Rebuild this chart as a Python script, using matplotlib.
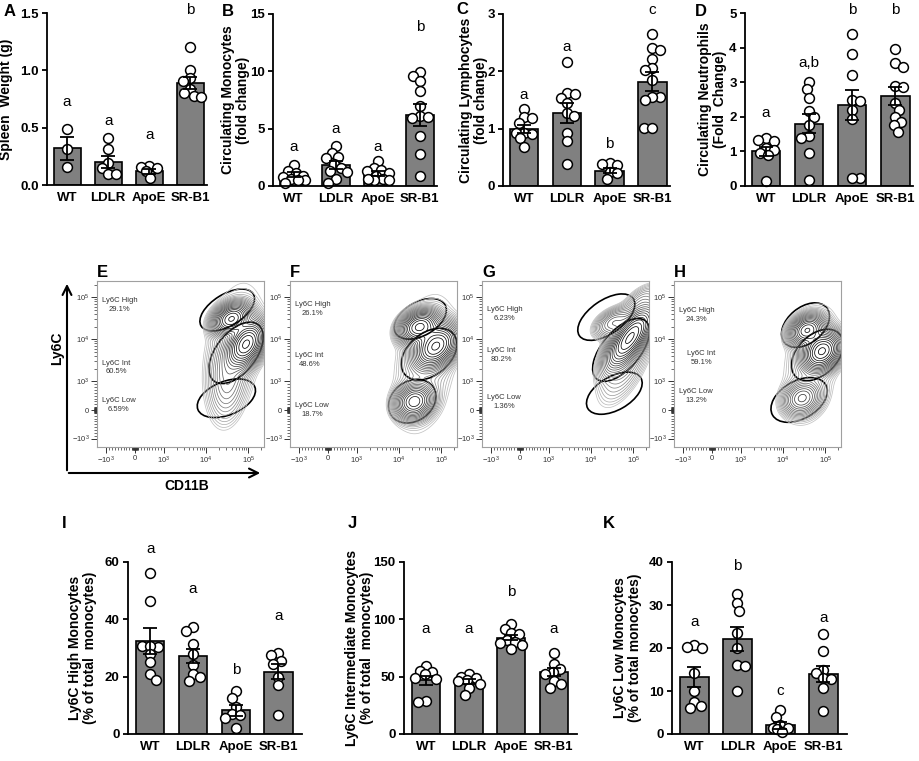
import numpy as np
import matplotlib
matplotlib.use("Agg")
import matplotlib.pyplot as plt
from matplotlib.patches import Ellipse, FancyArrowPatch

plt.rcParams["font.family"] = ["Liberation Sans", "DejaVu Sans"]
plt.rcParams["mathtext.fontset"] = "custom"
plt.rcParams["mathtext.rm"] = "Liberation Sans"
plt.rcParams["mathtext.it"] = "Liberation Sans:italic"
plt.rcParams["mathtext.bf"] = "Liberation Sans:bold"

W, H = 920, 761
GROUPS = ["WT", "LDLR", "ApoE", "SR-B1"]

# ---- A: spleen weight (g)
spleen_pts = [[0.49, 0.31, 0.16],
              [0.41, 0.31, 0.19, 0.15, 0.10, 0.10],
              [0.17, 0.16, 0.15, 0.12, 0.06],
              [1.20, 1.00, 0.93, 0.91, 0.84, 0.80, 0.78, 0.77]]
spleen_mean = [0.32, 0.20, 0.12, 0.89]
spleen_sem = [0.10, 0.055, 0.02, 0.055]
spleen_letters = ["a", "a", "a", "b"]
spleen_letter_y = [0.72, 0.56, 0.44, 1.53]

# ---- B: circulating monocytes (fold change)
mono_pts = [[1.8, 1.3, 1.1, 0.9, 0.8, 0.6, 0.5, 0.5, 0.3],
            [3.5, 2.9, 2.5, 2.4, 1.9, 1.6, 1.3, 1.2, 0.6, 0.3],
            [2.2, 1.6, 1.4, 1.3, 1.1, 0.9, 0.6, 0.5, 0.5, 0.6],
            [9.9, 9.6, 9.2, 8.3, 7.0, 6.1, 6.0, 5.9, 4.4, 2.8, 0.9]]
mono_mean = [1.0, 1.8, 1.1, 6.2]
mono_sem = [0.2, 0.35, 0.2, 0.95]
mono_letters = ["a", "a", "a", "b"]
mono_letter_y = [3.4, 5.0, 3.4, 13.9]

# ---- C: circulating lymphocytes (fold change)
lymph_pts = [[1.35, 1.21, 1.18, 1.10, 0.93, 0.92, 0.90, 0.83, 0.68],
             [2.17, 1.62, 1.60, 1.53, 1.45, 1.28, 1.22, 0.93, 0.78, 0.38],
             [0.40, 0.38, 0.36, 0.25, 0.22, 0.12],
             [2.65, 2.40, 2.38, 2.22, 2.05, 2.02, 1.85, 1.55, 1.55, 1.50, 1.02, 1.02]]
lymph_mean = [1.0, 1.27, 0.27, 1.82]
lymph_sem = [0.07, 0.17, 0.04, 0.16]
lymph_letters = ["a", "a", "b", "c"]
lymph_letter_y = [1.59, 2.43, 0.74, 3.07]

# ---- D: circulating neutrophils (fold change)
neut_pts = [[1.38, 1.33, 1.30, 1.10, 1.03, 0.95, 0.90, 0.15],
            [3.02, 2.80, 2.55, 2.18, 2.00, 1.75, 1.45, 1.40, 0.95, 0.18],
            [4.38, 3.82, 3.20, 2.50, 2.45, 2.20, 1.95, 0.22, 0.22],
            [3.95, 3.55, 3.45, 2.90, 2.85, 2.40, 2.20, 2.00, 1.85, 1.75, 1.55]]
neut_mean = [1.0, 1.8, 2.35, 2.6]
neut_sem = [0.14, 0.28, 0.43, 0.26]
neut_letters = ["a", "a,b", "b", "b"]
neut_letter_y = [2.1, 3.55, 5.1, 5.1]

# ---- I: Ly6C high (% of total monocytes)
high_pts = [[56, 46.5, 30.8, 30.5, 30.8, 28, 25, 21, 19],
            [37.3, 35.8, 31.5, 28, 24, 21, 20, 18.6],
            [15, 12.5, 9.5, 7, 6.5, 5.5, 2],
            [28.2, 27.5, 25.5, 24.4, 20, 17, 6.5]]
high_mean = [32.4, 27.2, 8.3, 21.8]
high_sem = [4.5, 2.3, 1.9, 2.7]
high_letters = ["a", "a", "b", "a"]
high_letter_y = [64.5, 50.5, 22.5, 41]

# ---- J: Ly6C intermediate
int_pts = [[59, 55, 54, 52, 49, 48, 29, 28],
           [52, 50, 49, 47, 46, 44, 40, 34],
           [96, 92, 88, 87, 82, 80, 79, 78, 74],
           [71, 61, 57, 54, 52, 46, 44, 40]]
int_mean = [47, 46, 84, 54]
int_sem = [4, 2, 2.3, 3.5]
int_letters = ["a", "a", "b", "a"]
int_letter_y = [92, 92, 124, 92]

# ---- K: Ly6C low
low_pts = [[20.7, 20.2, 20.0, 14.2, 10.0, 7.5, 6.5, 6.0],
           [32.5, 30.4, 28.6, 23.5, 20.0, 16.0, 15.8, 10.0],
           [5.5, 4.0, 2.0, 1.5, 1.2, 1.3, 0.5],
           [23.3, 19.3, 15.0, 14.2, 13.0, 12.8, 10.8, 5.4]]
low_mean = [13.3, 22, 2.0, 14]
low_sem = [2.3, 2.8, 0.8, 1.8]
low_letters = ["a", "b", "c", "a"]
low_letter_y = [26, 39, 10, 27]

# ---- E-H: flow cytometry gates (Ly6C vs CD11B)
gate_names = ["Ly6C High", "Ly6C Int", "Ly6C Low"]
gate_pct = [["29.1%", "60.5%", "6.59%"],
            ["26.1%", "48.6%", "18.7%"],
            ["6.23%", "80.2%", "1.36%"],
            ["24.3%", "59.1%", "13.2%"]]
# gate ellipses in display units: (cx, cy, width, height, angle)
gates = [[(2.18, 2.38, 1.45, 0.75, 32), (2.39, 1.36, 1.70, 0.95, 52), (2.16, 0.28, 1.45, 0.80, 22)],
         [(2.18, 2.17, 1.35, 0.80, 30), (2.39, 1.33, 1.50, 1.00, 40), (1.99, 0.21, 1.20, 0.95, 35)],
         [(2.04, 2.21, 1.55, 0.80, 35), (2.39, 1.43, 1.80, 0.90, 50), (2.23, 0.40, 1.45, 0.80, 30)],
         [(2.21, 2.02, 1.30, 0.85, 40), (2.49, 1.31, 1.45, 0.95, 45), (2.06, 0.24, 1.45, 0.90, 30)]]
# cell populations: (cx, cy, sd major, sd minor, angle, weight)
pops = [[(2.28, 2.17, 0.22, 0.16, 30, 0.27), (2.63, 1.57, 0.28, 0.18, 60, 0.50),
         (2.20, 0.85, 0.55, 0.22, 85, 0.10), (2.35, 1.50, 0.95, 0.40, 80, 0.10)],
        [(2.16, 1.98, 0.23, 0.17, 25, 0.25), (2.55, 1.52, 0.28, 0.20, 45, 0.44),
         (2.04, 0.20, 0.22, 0.19, 30, 0.18), (2.30, 1.10, 0.95, 0.40, 80, 0.10)],
        [(2.60, 1.72, 0.40, 0.16, 55, 0.70), (2.22, 2.08, 0.25, 0.15, 30, 0.06),
         (2.50, 1.20, 0.60, 0.25, 65, 0.10), (2.85, 2.60, 0.30, 0.15, 40, 0.02)],
        [(2.25, 1.90, 0.21, 0.16, 30, 0.23), (2.60, 1.40, 0.24, 0.19, 45, 0.52),
         (2.13, 0.28, 0.23, 0.19, 30, 0.12), (2.35, 1.10, 0.85, 0.38, 80, 0.10)]]
gate_label_y = [[0.855, 0.48, 0.253], [0.831, 0.524, 0.223],
                [0.80, 0.554, 0.27], [0.795, 0.536, 0.307]]
gate_label_x = [[0.03, 0.03, 0.03], [0.03, 0.03, 0.03],
                [0.03, 0.03, 0.03], [0.03, 0.08, 0.03]]
flow_letters = ["E", "F", "G", "H"]

BAR_COLOR = "#808080"
LIN = 0.68  # decades used by each half of the linear zone


def biex(v):
    v = np.asarray(v, dtype=float)
    a = np.abs(v)
    return np.where(a <= 1000, v / 1000 * LIN,
                    np.sign(v) * (LIN + np.log10(np.maximum(a, 1) / 1000)))


def px_rect(l, t, r, b):
    return [l / W, 1 - b / H, (r - l) / W, (b - t) / H]


def swarm_offsets(vals, ppu_x, ppu_y, d=8.0, max_off=11.0):
    placed = []
    offs = [0.0] * len(vals)
    flip = 1
    for i in np.argsort(vals)[::-1]:
        y = vals[i] * ppu_y
        cands = [0.0]
        for px, py in placed:
            dy = abs(py - y)
            if dy < d:
                dx = np.sqrt(d * d - dy * dy)
                cands += [px + dx, px - dx]
        ok = [c for c in cands if abs(c) <= max_off and
              all((c - px) ** 2 + (y - py) ** 2 >= d * d - 1e-6 for px, py in placed)]
        if ok:
            best = min(ok, key=lambda c: (round(abs(c), 3), -flip * c))
        else:
            grid = np.linspace(-max_off, max_off, 23)
            best = max(grid, key=lambda c: min((c - px) ** 2 + (y - py) ** 2
                                               for px, py in placed))
        flip = -flip
        placed.append((best, y))
        offs[i] = best / ppu_x
    return offs


def bar_panel(fig, rect, pts, means, sems, letters, letter_y, ylim, yticks,
              yfmt, ylabel, ylabel_right, xlim):
    ax = fig.add_axes(px_rect(*rect))
    x = np.arange(len(GROUPS))
    ax.bar(x, means, width=0.66, color=BAR_COLOR, edgecolor="black",
           linewidth=1.2, zorder=1)
    wpx = rect[2] - rect[0]
    hpx = rect[3] - rect[1]
    ppu_x = wpx / (xlim[1] - xlim[0])
    ppu_y = hpx / (ylim[1] - ylim[0])
    for i, vals in enumerate(pts):
        offs = swarm_offsets(vals, ppu_x, ppu_y)
        ax.scatter(i + np.array(offs), vals, s=50, facecolor="white",
                   edgecolor="black", linewidth=1.1, zorder=2, clip_on=False)
    ax.errorbar(x, means, yerr=sems, fmt="none", ecolor="black",
                elinewidth=1.3, capsize=5, capthick=1.3, zorder=3)
    for i, (s, yy) in enumerate(zip(letters, letter_y)):
        ax.text(i, yy, s, ha="center", va="center", fontsize=11, clip_on=False)
    ax.set_xlim(*xlim)
    ax.set_ylim(*ylim)
    ax.set_yticks(yticks)
    ax.set_yticklabels([yfmt.format(t) for t in yticks], fontweight="bold",
                       fontsize=9.5)
    ax.set_xticks(x)
    ax.set_xticklabels(GROUPS, fontweight="bold", fontsize=9.5)
    ax.tick_params(axis="x", length=0, pad=5)
    ax.tick_params(axis="y", length=3.5, width=1.3, pad=2.5)
    for side in ("top", "right"):
        ax.spines[side].set_visible(False)
    for side in ("left", "bottom"):
        ax.spines[side].set_linewidth(1.3)
    ax.set_ylabel(ylabel, fontweight="bold", fontsize=10, linespacing=1.05)
    ax.yaxis.set_label_coords((ylabel_right - rect[0]) / wpx, 0.5)
    return ax


def flow_panel(fig, rect, k):
    ax = fig.add_axes(px_rect(*rect))
    xlim = (-0.9, 3.05)
    ylim = (-0.88, 3.07)
    gx = np.linspace(*xlim, 320)
    gy = np.linspace(*ylim, 320)
    X, Y = np.meshgrid(gx, gy)
    Z = np.zeros_like(X)
    for cx, cy, s1, s2, ang, w in pops[k]:
        t = np.deg2rad(ang)
        u = (X - cx) * np.cos(t) + (Y - cy) * np.sin(t)
        v = -(X - cx) * np.sin(t) + (Y - cy) * np.cos(t)
        Z += w / (s1 * s2) * np.exp(-0.5 * ((u / s1) ** 2 + (v / s2) ** 2))
    levels = np.geomspace(0.007, 0.93, 22) * Z.max()
    cols = plt.cm.Greys(np.linspace(0.35, 1.0, len(levels)))
    ax.contour(X, Y, Z, levels=levels, colors=cols, linewidths=0.55)
    for cx, cy, w, h, ang in gates[k]:
        ax.add_patch(Ellipse((cx, cy), w, h, angle=ang, fill=False,
                             edgecolor="black", linewidth=1.2))
    for name, pct, xx, yy in zip(gate_names, gate_pct[k], gate_label_x[k],
                                 gate_label_y[k]):
        ax.text(xx, yy, f"{name}\n{pct}", transform=ax.transAxes,
                ha="left", va="center", multialignment="center",
                fontsize=5.5, color="#333333", linespacing=1.3)
    ax.set_xlim(*xlim)
    ax.set_ylim(*ylim)

    major_v = [-1000, 0, 1000, 10000, 100000]
    major_lab = ["$-10^{3}$", "0", "$10^{3}$", "$10^{4}$", "$10^{5}$"]
    minor_v = ([s * m for s in (-1, 1) for m in range(10, 100, 10)]
               + [s * m for s in (-1, 1) for m in range(100, 1000, 100)]
               + [m * 10 ** e for e in (3, 4) for m in range(2, 10)] + [200000])
    for axis in (ax.xaxis, ax.yaxis):
        axis.set_ticks(biex(major_v))
        axis.set_ticklabels(major_lab)
        axis.set_ticks(biex(minor_v), minor=True)
    ax.tick_params(which="major", length=4, width=0.7, color="#333333",
                   labelsize=5.5, labelcolor="#333333", pad=1.5)
    ax.tick_params(which="minor", length=2, width=0.5, color="#333333")
    for sp in ax.spines.values():
        sp.set_color("#a0a0a0")
        sp.set_linewidth(0.8)
    return ax


fig = plt.figure(figsize=(W / 100, H / 100), dpi=100)

bar_panel(fig, (47, 13, 207, 185), spleen_pts, spleen_mean, spleen_sem,
          spleen_letters, spleen_letter_y, (0, 1.5), [0, 0.5, 1.0, 1.5], "{:.1f}",
          "Spleen  Weight (g)", 13, (-0.49, 3.41))
bar_panel(fig, (273, 14, 437, 186), mono_pts, mono_mean, mono_sem,
          mono_letters, mono_letter_y, (0, 15), [0, 5, 10, 15], "{:.0f}",
          "Circulating Monocytes\n(fold change)", 250, (-0.49, 3.41))
bar_panel(fig, (503, 14, 670, 186), lymph_pts, lymph_mean, lymph_sem,
          lymph_letters, lymph_letter_y, (0, 3), [0, 1, 2, 3], "{:.0f}",
          "Circulating Lymphocytes\n(fold change)", 488, (-0.49, 3.41))
bar_panel(fig, (745, 13, 913, 186), neut_pts, neut_mean, neut_sem,
          neut_letters, neut_letter_y, (0, 5), [0, 1, 2, 3, 4, 5], "{:.0f}",
          "Circulating Neutrophils\n(Fold  Change)", 727, (-0.49, 3.41))

bar_panel(fig, (128, 562, 302, 734), high_pts, high_mean, high_sem,
          high_letters, high_letter_y, (0, 60), [0, 20, 40, 60], "{:.0f}",
          "Ly6C High Monocytes\n(% of total  monocytes)", 97, (-0.52, 3.55))
bar_panel(fig, (404, 562, 577, 734), int_pts, int_mean, int_sem,
          int_letters, int_letter_y, (0, 150), [0, 50, 100, 150], "{:.0f}",
          "Ly6C Intermediate Monocytes\n(% of total  monocytes)", 374, (-0.52, 3.55))
bar_panel(fig, (672, 562, 847, 734), low_pts, low_mean, low_sem,
          low_letters, low_letter_y, (0, 40), [0, 10, 20, 30, 40], "{:.0f}",
          "Ly6C Low Monocytes\n(% of total monocytes)", 642, (-0.52, 3.55))

flow_lefts = [97, 290, 482, 674]
for k, left in enumerate(flow_lefts):
    flow_panel(fig, (left, 281, left + 167, 447), k)
    fig.text(left / W, 1 - 272 / H, flow_letters[k], fontsize=12,
             fontweight="bold", ha="left", va="center")

# panel letters
for s, x, y in [("A", 4, 12), ("B", 222, 12), ("C", 456, 10), ("D", 695, 12),
                ("I", 62, 523), ("J", 348, 523), ("K", 603, 523)]:
    fig.text(x / W, 1 - y / H, s, fontsize=12, fontweight="bold",
             ha="left", va="center")

# axis arrows for flow plots
arrow = dict(arrowstyle="->", lw=1.5, color="black", mutation_scale=16)
fig.add_artist(FancyArrowPatch((67 / W, 1 - 473 / H), (67 / W, 1 - 281 / H),
                               transform=fig.transFigure, **arrow))
fig.add_artist(FancyArrowPatch((66 / W, 1 - 473 / H), (263 / W, 1 - 473 / H),
                               transform=fig.transFigure, **arrow))
fig.text(57 / W, 1 - 348 / H, "Ly6C", rotation=90, fontsize=10,
         fontweight="bold", ha="center", va="center")
fig.text(187 / W, 1 - 486 / H, "CD11B", fontsize=10, fontweight="bold",
         ha="center", va="center")

fig.savefig("out.png", dpi=100, facecolor="white")
